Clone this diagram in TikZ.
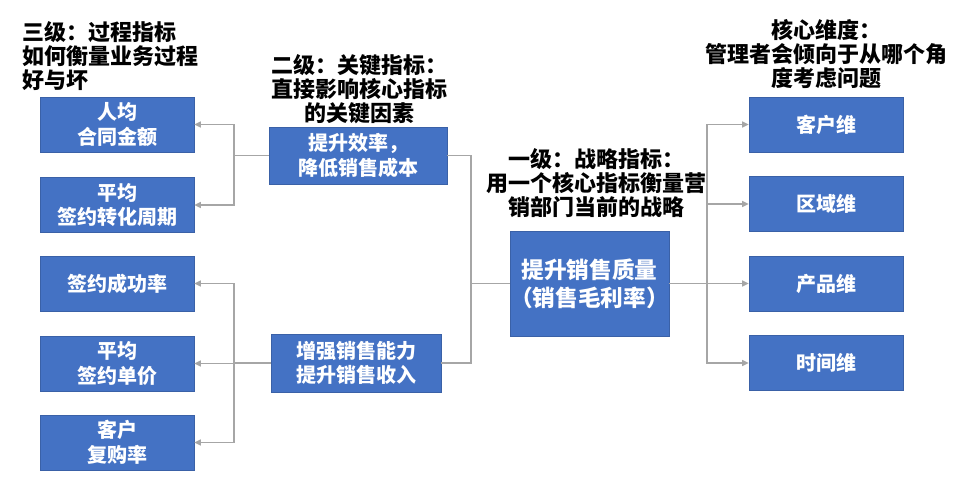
\documentclass[tikz,border=0pt]{standalone}
\usepackage{fontspec}
\setmainfont{Noto Sans CJK SC}
\usetikzlibrary{arrows.meta}
\definecolor{boxblue}{HTML}{4472C4}
\definecolor{linegray}{HTML}{A6A6A6}
\begin{document}
\begin{tikzpicture}[x=0.75pt,y=-0.75pt,
  bbox/.style={fill=boxblue, draw=boxblue!85!black, line width=0.4pt, text=white, font=\fontsize{15}{18.5}\selectfont\bfseries, align=center, inner sep=0pt, minimum width=154*0.75pt, minimum height=55*0.75pt},
  lbl/.style={font=\fontsize{16.5}{18}\selectfont\bfseries, text=black, inner sep=0pt},
  conn/.style={draw=linegray, line width=1.1pt},
  arr/.style={conn, -{Triangle[length=5pt,width=4.5pt]}}]
\useasboundingbox (0,0) rectangle (953,483);
% left boxes
\node[bbox] (l1) at (117,124.5) {人均\\合同金额};
\node[bbox] (l2) at (117,205) {平均\\签约转化周期};
\node[bbox] (l3) at (117,283.5) {签约成功率};
\node[bbox] (l4) at (117,363.5) {平均\\签约单价};
\node[bbox] (l5) at (117,442.5) {客户\\复购率};
% middle boxes
\node[bbox, minimum width=178*0.75pt, minimum height=57*0.75pt] (m1) at (358,155.5) {提升效率，\\降低销售成本};
\node[bbox, minimum width=170*0.75pt, minimum height=58*0.75pt] (m2) at (356,363) {增强销售能力\\提升销售收入};
% center box
\node[bbox, minimum width=155*0.75pt, minimum height=105*0.75pt, font=\fontsize{17}{21}\selectfont\bfseries] (c) at (589.5,283.5) {提升销售质量\\（销售毛利率）};
% right boxes
\node[bbox] (r1) at (826,124.5) {客户维};
\node[bbox] (r2) at (826,204) {区域维};
\node[bbox] (r3) at (826,283.5) {产品维};
\node[bbox] (r4) at (826,363) {时间维};
% labels
\node[lbl, align=left, anchor=west] (t3) at (22,56) {三级：过程指标\\如何衡量业务过程\\好与坏};
\node[lbl, align=center] (t2) at (359,89) {二级：关键指标：\\直接影响核心指标\\的关键因素};
\node[lbl, align=center] (t1) at (596,183) {一级：战略指标：\\用一个核心指标衡量营\\销部门当前的战略};
\node[lbl, align=center] (t0) at (826,54) {核心维度：\\管理者会倾向于从哪个角\\度考虑问题};
% junction coordinates
\coordinate (ja) at (234,155.5);
\coordinate (jb) at (234,363);
\coordinate (jc) at (471,283.5);
\coordinate (jd) at (707,283.5);
% left connectors
\draw[conn] (m1.west) -- (ja);
\draw[arr] (ja) |- (l1.east);
\draw[arr] (ja) |- (l2.east);
\draw[conn] (m2.west) -- (jb);
\draw[arr] (jb) |- (l3.east);
\draw[arr] (jb) |- (l4.east);
\draw[arr] (jb) |- (l5.east);
% middle to center
\draw[conn] (m1.east) -| (jc);
\draw[conn] (m2.east) -| (jc);
\draw[conn] (jc) -- (c.west);
% right connectors
\draw[conn] (c.east) -- (jd);
\draw[arr] (jd) |- (r1.west);
\draw[arr] (jd) |- (r2.west);
\draw[arr] (jd) |- (r3.west);
\draw[arr] (jd) |- (r4.west);
\end{tikzpicture}
\end{document}
